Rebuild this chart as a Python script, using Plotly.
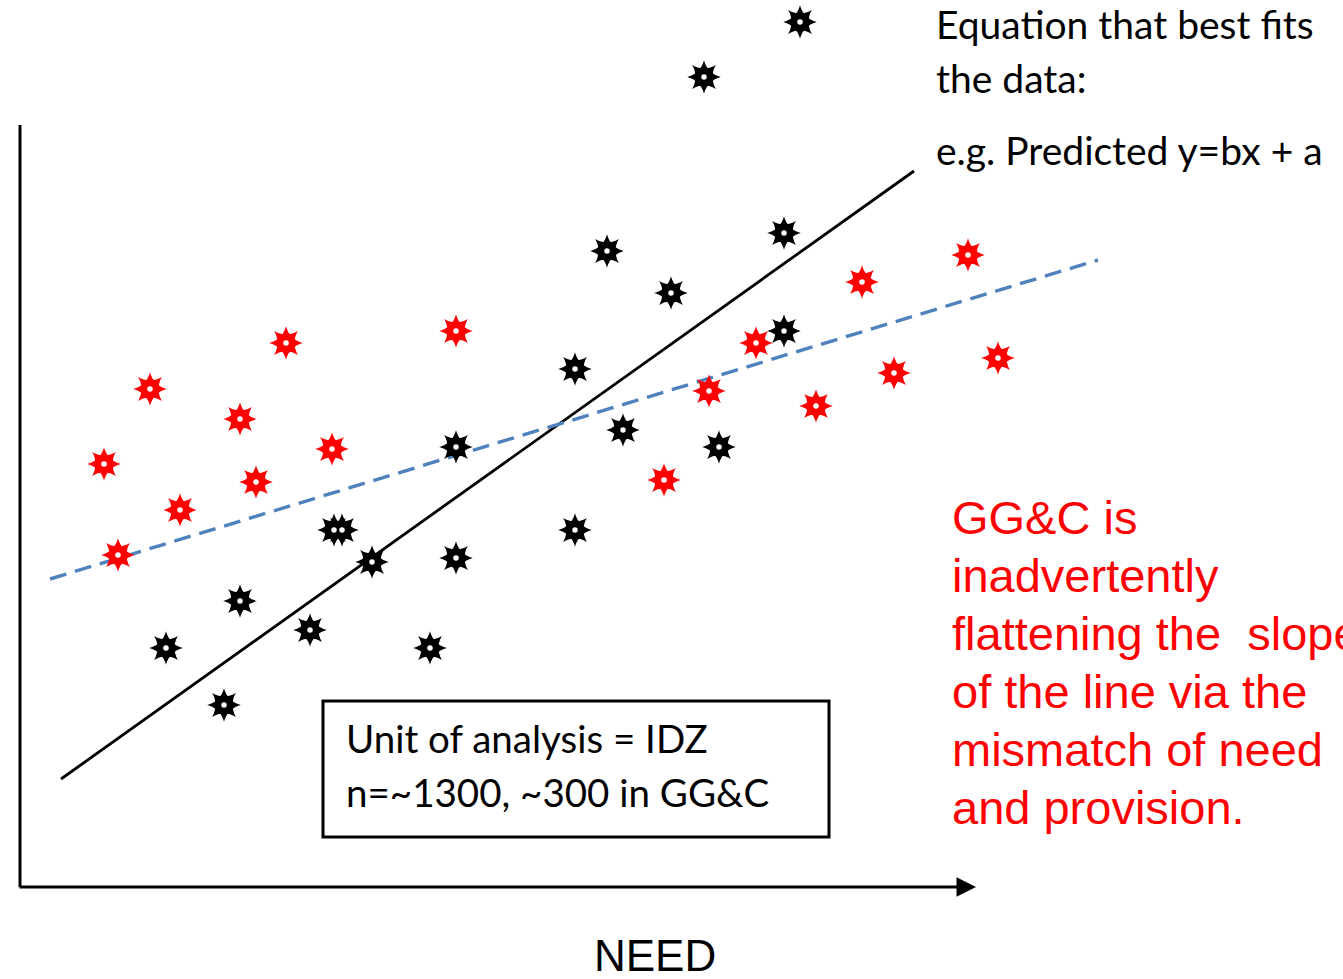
import plotly.graph_objects as go

W, H = 1343, 979

# --- DATA (need on x, provision on y; origin at the axis corner) ---
black_need = [780, 684, 764, 587, 651, 764, 555, 603, 436, 699, 555, 314, 322, 352, 436, 220, 146, 290, 410, 204]
black_prov = [865, 810, 654, 636, 594, 556, 518, 457, 440, 440, 357, 357, 357, 325, 329, 286, 239, 257, 239, 182]

red_need = [84, 130, 266, 436, 220, 312, 236, 160, 98, 644, 689, 736, 796, 842, 874, 948, 978]
red_prov = [423, 498, 544, 556, 468, 438, 405, 377, 332, 407, 496, 544, 481, 605, 514, 632, 529]

# fitted lines: all IDZs (solid) and GG&C (dashed)
fit_all_need = [41, 894]
fit_all_prov = [108, 716]
fit_ggc_need = [30, 1078]
fit_ggc_prov = [308, 627]

axis_len_need = 956
axis_len_prov = 762

note_lines = ["Equation that best fits", "the data:", "e.g. Predicted y=bx + a"]
box_lines = ["Unit of analysis = IDZ", "n=~1300, ~300 in GG&C"]
red_lines = ["GG&C is", "inadvertently", "flattening the  slope", "of the line via the",
             "mismatch of need", "and provision."]

# origin of the axes in screen pixels
OX, OY = 20, 887


def px(x):
    return x / W


def py(y):
    return 1 - y / H


fig = go.Figure()

fig.add_trace(go.Scatter(x=fit_all_need, y=fit_all_prov, mode="lines",
                         line=dict(color="black", width=2.8), hoverinfo="skip"))
fig.add_trace(go.Scatter(x=fit_ggc_need, y=fit_ggc_prov, mode="lines",
                         line=dict(color="#4F81BD", width=3.4, dash="17px,9px"), hoverinfo="skip"))


def stars(xs, ys, color):
    # 8-point star = two star-diamonds, one turned 45 degrees, with a white hole
    for ang in (0, 45):
        fig.add_trace(go.Scatter(x=xs, y=ys, mode="markers",
                                 marker=dict(symbol="star-diamond", size=24, angle=ang,
                                             color=color, line=dict(width=0))))
    fig.add_trace(go.Scatter(x=xs, y=ys, mode="markers",
                             marker=dict(symbol="circle", size=5.5, color="white", line=dict(width=0))))


stars(black_need, black_prov, "black")
stars(red_need, red_prov, "#FF0000")

shapes = [
    dict(type="line", xref="x", yref="y", x0=0, y0=0, x1=0, y1=axis_len_prov,
         line=dict(color="black", width=3)),
    dict(type="rect", xref="paper", yref="paper", x0=px(323), y0=py(701), x1=px(829), y1=py(837),
         line=dict(color="black", width=3)),
]

ann = [
    dict(x=axis_len_need, y=0, ax=-2, ay=0, xref="x", yref="y", axref="x", ayref="y",
         text="", showarrow=True, arrowhead=2, arrowsize=1.3, arrowwidth=3, arrowcolor="black"),
]

note_font = dict(family="Lato, Open Sans, sans-serif", size=39, color="black")
for txt, yc in zip(note_lines, [24, 78, 150]):
    ann.append(dict(x=px(934), y=py(yc), xref="paper", yref="paper", text=txt, showarrow=False,
                    xanchor="left", yanchor="middle", font=note_font))
box_font = dict(family="Lato, Open Sans, sans-serif", size=38.5, color="black")
for txt, yc in zip(box_lines, [738, 792]):
    ann.append(dict(x=px(344), y=py(yc), xref="paper", yref="paper", text=txt, showarrow=False,
                    xanchor="left", yanchor="middle", font=box_font))

red_font = dict(family="Liberation Sans, Arial, sans-serif", size=47, color="#FF0000")
for i, txt in enumerate(red_lines):
    ann.append(dict(x=px(950), y=py(517 + 58 * i), xref="paper", yref="paper", text=txt,
                    showarrow=False, xanchor="left", yanchor="middle", font=red_font))

ann.append(dict(x=px(655), y=py(955), xref="paper", yref="paper", text="NEED", showarrow=False,
                xanchor="center", yanchor="middle",
                font=dict(family="Liberation Sans Narrow, Arial Narrow, sans-serif", size=44, color="black")))

fig.update_layout(
    width=W, height=H,
    margin=dict(l=0, r=0, t=0, b=0),
    paper_bgcolor="white", plot_bgcolor="white",
    showlegend=False,
    xaxis=dict(range=[-OX, W - OX], visible=False, fixedrange=True),
    yaxis=dict(range=[OY - H, OY], visible=False, fixedrange=True),
    shapes=shapes,
    annotations=ann,
)

fig.write_html("out.html", config={"displayModeBar": False},
               post_script="document.body.style.margin='0';document.body.style.overflow='hidden';")
